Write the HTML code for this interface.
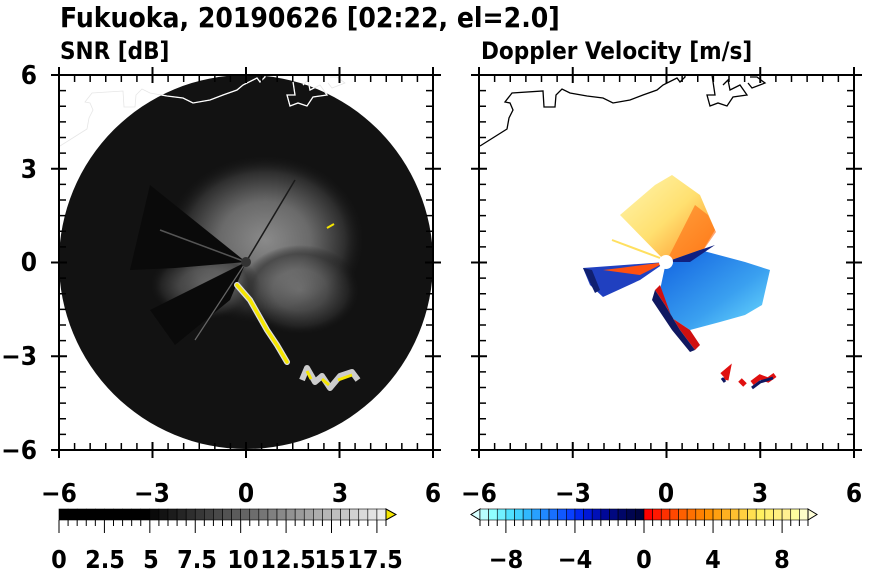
<!DOCTYPE html>
<html><head><meta charset="utf-8"><style>
html,body{margin:0;padding:0;background:#fff;}
svg{display:block;font-family:"DejaVu Sans Condensed","DejaVu Sans","Liberation Sans",sans-serif;font-weight:bold;}
</style></head><body>
<svg width="870" height="570" viewBox="0 0 870 570" xmlns="http://www.w3.org/2000/svg">
<defs>
<radialGradient id="cloud" cx="0.5" cy="0.5" r="0.5">
<stop offset="0" stop-color="#8a8a8a"/><stop offset="0.45" stop-color="#6a6a6a"/><stop offset="0.8" stop-color="#2e2e2e"/><stop offset="1" stop-color="#141414" stop-opacity="0"/>
</radialGradient>
<linearGradient id="yel" x1="0" y1="0" x2="1" y2="1">
<stop offset="0" stop-color="#fff6b0"/><stop offset="0.5" stop-color="#ffe070"/><stop offset="1" stop-color="#ff8a20"/>
</linearGradient>
<linearGradient id="blu" x1="0" y1="0" x2="1" y2="1">
<stop offset="0" stop-color="#1060e0"/><stop offset="0.6" stop-color="#3aa0f0"/><stop offset="1" stop-color="#70e0ff"/>
</linearGradient>
<clipPath id="circ"><circle cx="246" cy="262" r="187"/></clipPath>
</defs>
<text x="60" y="27" font-size="28">Fukuoka, 20190626 [02:22, el=2.0]</text>
<text x="60" y="59" font-size="24">SNR [dB]</text>
<text x="481" y="59" font-size="24">Doppler Velocity [m/s]</text>

<!-- left panel -->
<circle cx="246" cy="262" r="187" fill="#121212"/>
<g clip-path="url(#circ)">
<ellipse cx="265" cy="240" rx="100" ry="85" fill="url(#cloud)"/>
<ellipse cx="205" cy="285" rx="55" ry="35" fill="url(#cloud)" opacity="0.6"/>
<ellipse cx="300" cy="290" rx="60" ry="45" fill="url(#cloud)" opacity="0.6"/>
<polygon points="246,262 150,185 130,270 175,268" fill="#0a0a0a"/>
<line x1="246" y1="262" x2="160" y2="230" stroke="#555" stroke-width="1.5"/>
<polygon points="246,262 150,310 175,345 230,300" fill="#0a0a0a"/>
<line x1="246" y1="262" x2="195" y2="340" stroke="#666" stroke-width="1.2"/>
<line x1="246" y1="262" x2="295" y2="180" stroke="#1a1a1a" stroke-width="1.5"/>
<path d="M237,285 L250,300 L267,330 L277,345 L287,362" stroke="#ddd" stroke-width="6" fill="none" stroke-linecap="round"/>
<path d="M237,285 L250,300 L267,330 L277,345 L287,362" stroke="#f5e600" stroke-width="3.5" fill="none" stroke-linecap="round"/>
<path d="M302,380 L307,368 L315,382 L322,376 L330,388 L340,376 L352,372 L358,380" stroke="#ccc" stroke-width="6" fill="none" stroke-linejoin="round"/>
<path d="M307,371 L311,379 M322,379 L329,385 M338,380 L352,375" stroke="#f5e600" stroke-width="3" fill="none"/>
<line x1="327" y1="228" x2="334" y2="224" stroke="#f5e600" stroke-width="2"/>
<circle cx="246" cy="262" r="5" fill="#333"/>
</g>
<path d="M60,146 L87,129 L89,118 L93,110 L90,103 L85,102 L92,93 L123,91 L124,107 L135,107 L136,95 L142,89 L150,93 L167,96 L183,98 L193,103 L210,100 L223,95 L237,90 L243,85 L257,78 L260,82 L265,77 L265,74 M280,75 L292,75 L295,95 L287,95 L290,106 L298,103 L307,106 L313,97 L327,95 L320,85 L310,90 L308,80 L303,85 M330,77 L337,77 L345,83 L332,88 L328,83" fill="none" stroke="#e6e6e6" stroke-width="0.8"/>
<g clip-path="url(#circ)">
<path d="M60,146 L87,129 L89,118 L93,110 L90,103 L85,102 L92,93 L123,91 L124,107 L135,107 L136,95 L142,89 L150,93 L167,96 L183,98 L193,103 L210,100 L223,95 L237,90 L243,85 L257,78 L260,82 L265,77 L265,74 M280,75 L292,75 L295,95 L287,95 L290,106 L298,103 L307,106 L313,97 L327,95 L320,85 L310,90 L308,80 L303,85 M330,77 L337,77 L345,83 L332,88 L328,83" fill="none" stroke="#fff" stroke-width="1.3"/>
</g>

<!-- right panel -->
<polygon points="666,262 620,215 655,185 672,175 700,195 715,230 700,255" fill="url(#yel)"/>
<polygon points="666,262 695,205 708,215 716,232 700,255" fill="#ff6a10" opacity="0.6"/>
<polygon points="666,262 700,250 745,262 770,270 762,305 745,315 720,322 690,330 672,318 660,290" fill="url(#blu)"/>
<polygon points="666,262 700,250 715,245 690,262" fill="#102080"/>
<polygon points="660,285 672,318 690,330 700,345 695,350 680,330 665,305 655,290" fill="#d01010"/>
<polygon points="655,290 665,305 680,330 695,350 690,352 672,330 652,300" fill="#101860"/>
<polygon points="666,262 583,268 590,285 603,297 640,280" fill="#2040c0"/>
<polygon points="666,262 620,268 603,270 640,275" fill="#ff5010"/>
<polygon points="583,268 592,270 600,290 595,293" fill="#102070"/>
<line x1="660" y1="258" x2="612" y2="240" stroke="#ffe060" stroke-width="2"/>
<path d="M722,375 L728,370 L726,380 M740,380 L745,385 M752,383 L760,377 L768,380 L775,375" stroke="#e01010" stroke-width="5" fill="none"/>
<path d="M722,378 L725,382 M752,388 L760,382 L773,378" stroke="#101860" stroke-width="3" fill="none"/>
<circle cx="666" cy="262" r="7" fill="#fff"/>
<path d="M480,146 L507,129 L509,118 L513,110 L510,103 L505,102 L512,93 L543,91 L544,107 L555,107 L556,95 L562,89 L570,93 L587,96 L603,98 L613,103 L630,100 L643,95 L657,90 L663,85 L677,78 L680,82 L685,77 L685,74 M700,75 L712,75 L715,95 L707,95 L710,106 L718,103 L727,106 L733,97 L747,95 L740,85 L730,90 L728,80 L723,85 M750,77 L757,77 L765,83 L752,88 L748,83" fill="none" stroke="#000" stroke-width="1.3"/>

<!-- frames and ticks -->
<g stroke="#000" fill="none">
<rect x="59" y="75" width="374" height="375" stroke-width="2"/>
<rect x="479" y="75" width="375" height="375" stroke-width="2"/>
</g>
<g id="ticks" stroke="#000" stroke-width="1.5">
</g>
<g font-size="26" text-anchor="middle">
<text x="59" y="502">−6</text><text x="152" y="502">−3</text><text x="246" y="502">0</text><text x="340" y="502">3</text><text x="433" y="502">6</text>
<text x="479" y="502">−6</text><text x="573" y="502">−3</text><text x="666" y="502">0</text><text x="760" y="502">3</text><text x="854" y="502">6</text>
</g>
<g font-size="26" text-anchor="end">
<text x="37" y="84">6</text><text x="37" y="178">3</text><text x="37" y="271">0</text><text x="37" y="365">−3</text><text x="37" y="459">−6</text>
</g>
<g id="cb"></g>
<g font-size="25" text-anchor="middle">
<text x="59" y="568">0</text><text x="105" y="568">2.5</text><text x="151" y="568">5</text><text x="197" y="568">7.5</text><text x="243" y="568">10</text><text x="288" y="568">12.5</text><text x="330" y="568">15</text><text x="375" y="568">17.5</text>
<text x="506" y="568">−8</text><text x="575" y="568">−4</text><text x="644" y="568">0</text><text x="713" y="568">4</text><text x="782" y="568">8</text>
</g>
</svg>
<script>
(function(){
var ns="http://www.w3.org/2000/svg";
var t=document.getElementById('ticks');
function L(x1,y1,x2,y2,w){var l=document.createElementNS(ns,'line');l.setAttribute('x1',x1);l.setAttribute('y1',y1);l.setAttribute('x2',x2);l.setAttribute('y2',y2);if(w)l.setAttribute('stroke-width',w);t.appendChild(l);}
[[59,433],[479,854]].forEach(function(p){
 var x0=p[0],x1=p[1],s=(x1-x0)/12;
 for(var i=0;i<=24;i++){var x=x0+i*s/2,maj=(i%6==0);
  if(maj){L(x,75-8,x,75+8,2);L(x,450-8,x,450+8,2);}else{L(x,75,x,82);L(x,450,x,443);}
 }
 for(var i=0;i<=24;i++){var y=75+i*375/24,maj=(i%6==0);
  if(maj){L(x0-8,y,x0+8,y,2);L(x1-8,y,x1+8,y,2);}else{L(x0,y,x0+7,y);L(x1,y,x1-7,y);}
 }
});
var cb=document.getElementById('cb');
function R(x,y,w,h,f){var r=document.createElementNS(ns,'rect');r.setAttribute('x',x);r.setAttribute('y',y);r.setAttribute('width',w);r.setAttribute('height',h);r.setAttribute('fill',f);r.setAttribute('stroke','#000');r.setAttribute('stroke-width','0.6');cb.appendChild(r);}
function P(pts,f){var p=document.createElementNS(ns,'polygon');p.setAttribute('points',pts);p.setAttribute('fill',f);p.setAttribute('stroke','#000');p.setAttribute('stroke-width','1');cb.appendChild(p);}
var w=(386-59)/36;
for(var i=0;i<36;i++){var v=i<10?0:Math.round(10+(i-10)*(235/26));R(59+i*w,509,w,11,'rgb('+v+','+v+','+v+')');}
P('386,509 396,514.5 386,520','#f5e600');
for(var i=0;i<=36;i++){var x=59+i*w;var l=document.createElementNS(ns,'line');l.setAttribute('x1',x);l.setAttribute('x2',x);l.setAttribute('y1',520);l.setAttribute('y2',(i%5==0)?533:526);l.setAttribute('stroke','#000');l.setAttribute('stroke-width',1);cb.appendChild(l);}
var blues=['#b8ffff','#90ffff','#70f0ff','#50e0ff','#40d0ff','#30b8ff','#28a0ff','#2088ff','#1870ff','#1058ff','#0840ff','#0028f0','#0018d8','#0010b8','#000898','#000880','#000668','#000550','#000440'];
var reds=['#ff0000','#ff1800','#ff3000','#ff4800','#ff6000','#ff7000','#ff8000','#ff9000','#ffa010','#ffb020','#ffc030','#ffd040','#ffe050','#fff060','#fff070','#fff080','#fff090','#ffffa0','#ffffc8'];
var cols=blues.concat(reds);var w2=(808-480)/38;
P('480,509 471,514.5 480,520','#d8ffff');
for(var i=0;i<38;i++)R(480+i*w2,509,w2,11,cols[i]);
P('808,509 817,514.5 808,520','#ffffd8');
for(var i=0;i<=38;i++){var x=480+i*w2;var maj=((i-3)%8==0&&i>=3);var l=document.createElementNS(ns,'line');l.setAttribute('x1',x);l.setAttribute('x2',x);l.setAttribute('y1',520);l.setAttribute('y2',maj?533:526);l.setAttribute('stroke','#000');cb.appendChild(l);}
})();
</script>
</body></html>
